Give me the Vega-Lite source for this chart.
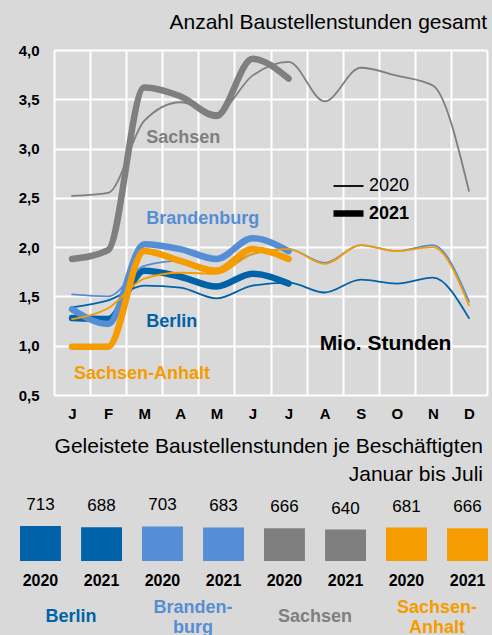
{
  "$schema": "https://vega.github.io/schema/vega-lite/v6.json",
  "background": "#d9d9d9",
  "padding": {"left": 18, "top": 12, "right": 6, "bottom": 0},
  "spacing": 15,
  "config": {"font": "Liberation Sans", "view": {"stroke": null}},
  "datasets": {
    "lines": [
      {"state": "Sachsen", "year": "2020", "month": 1, "value": 2.52},
      {"state": "Sachsen", "year": "2020", "month": 2, "value": 2.55},
      {"state": "Sachsen", "year": "2020", "month": 3, "value": 3.28},
      {"state": "Sachsen", "year": "2020", "month": 4, "value": 3.47},
      {"state": "Sachsen", "year": "2020", "month": 5, "value": 3.36},
      {"state": "Sachsen", "year": "2020", "month": 6, "value": 3.74},
      {"state": "Sachsen", "year": "2020", "month": 7, "value": 3.88},
      {"state": "Sachsen", "year": "2020", "month": 8, "value": 3.48},
      {"state": "Sachsen", "year": "2020", "month": 9, "value": 3.82},
      {"state": "Sachsen", "year": "2020", "month": 10, "value": 3.74},
      {"state": "Sachsen", "year": "2020", "month": 11, "value": 3.64},
      {"state": "Sachsen", "year": "2020", "month": 12, "value": 2.57},
      {"state": "Sachsen", "year": "2021", "month": 1, "value": 1.88},
      {"state": "Sachsen", "year": "2021", "month": 2, "value": 1.97},
      {"state": "Sachsen", "year": "2021", "month": 3, "value": 3.62},
      {"state": "Sachsen", "year": "2021", "month": 4, "value": 3.53},
      {"state": "Sachsen", "year": "2021", "month": 5, "value": 3.33},
      {"state": "Sachsen", "year": "2021", "month": 6, "value": 3.91},
      {"state": "Sachsen", "year": "2021", "month": 7, "value": 3.71},
      {"state": "Berlin", "year": "2020", "month": 1, "value": 1.39},
      {"state": "Berlin", "year": "2020", "month": 2, "value": 1.46},
      {"state": "Berlin", "year": "2020", "month": 3, "value": 1.61},
      {"state": "Berlin", "year": "2020", "month": 4, "value": 1.59},
      {"state": "Berlin", "year": "2020", "month": 5, "value": 1.48},
      {"state": "Berlin", "year": "2020", "month": 6, "value": 1.61},
      {"state": "Berlin", "year": "2020", "month": 7, "value": 1.64},
      {"state": "Berlin", "year": "2020", "month": 8, "value": 1.54},
      {"state": "Berlin", "year": "2020", "month": 9, "value": 1.67},
      {"state": "Berlin", "year": "2020", "month": 10, "value": 1.63},
      {"state": "Berlin", "year": "2020", "month": 11, "value": 1.69},
      {"state": "Berlin", "year": "2020", "month": 12, "value": 1.28},
      {"state": "Berlin", "year": "2021", "month": 1, "value": 1.28},
      {"state": "Berlin", "year": "2021", "month": 2, "value": 1.27},
      {"state": "Berlin", "year": "2021", "month": 3, "value": 1.76},
      {"state": "Berlin", "year": "2021", "month": 4, "value": 1.70},
      {"state": "Berlin", "year": "2021", "month": 5, "value": 1.60},
      {"state": "Berlin", "year": "2021", "month": 6, "value": 1.73},
      {"state": "Berlin", "year": "2021", "month": 7, "value": 1.63},
      {"state": "Brandenburg", "year": "2020", "month": 1, "value": 1.52},
      {"state": "Brandenburg", "year": "2020", "month": 2, "value": 1.50},
      {"state": "Brandenburg", "year": "2020", "month": 3, "value": 1.81},
      {"state": "Brandenburg", "year": "2020", "month": 4, "value": 1.86},
      {"state": "Brandenburg", "year": "2020", "month": 5, "value": 1.78},
      {"state": "Brandenburg", "year": "2020", "month": 6, "value": 1.93},
      {"state": "Brandenburg", "year": "2020", "month": 7, "value": 1.98},
      {"state": "Brandenburg", "year": "2020", "month": 8, "value": 1.84},
      {"state": "Brandenburg", "year": "2020", "month": 9, "value": 2.02},
      {"state": "Brandenburg", "year": "2020", "month": 10, "value": 1.96},
      {"state": "Brandenburg", "year": "2020", "month": 11, "value": 2.02},
      {"state": "Brandenburg", "year": "2020", "month": 12, "value": 1.45},
      {"state": "Brandenburg", "year": "2021", "month": 1, "value": 1.37},
      {"state": "Brandenburg", "year": "2021", "month": 2, "value": 1.22},
      {"state": "Brandenburg", "year": "2021", "month": 3, "value": 2.03},
      {"state": "Brandenburg", "year": "2021", "month": 4, "value": 1.98},
      {"state": "Brandenburg", "year": "2021", "month": 5, "value": 1.88},
      {"state": "Brandenburg", "year": "2021", "month": 6, "value": 2.09},
      {"state": "Brandenburg", "year": "2021", "month": 7, "value": 1.96},
      {"state": "Sachsen-Anhalt", "year": "2020", "month": 1, "value": 1.27},
      {"state": "Sachsen-Anhalt", "year": "2020", "month": 2, "value": 1.38},
      {"state": "Sachsen-Anhalt", "year": "2020", "month": 3, "value": 1.68},
      {"state": "Sachsen-Anhalt", "year": "2020", "month": 4, "value": 1.74},
      {"state": "Sachsen-Anhalt", "year": "2020", "month": 5, "value": 1.73},
      {"state": "Sachsen-Anhalt", "year": "2020", "month": 6, "value": 1.93},
      {"state": "Sachsen-Anhalt", "year": "2020", "month": 7, "value": 1.98},
      {"state": "Sachsen-Anhalt", "year": "2020", "month": 8, "value": 1.83},
      {"state": "Sachsen-Anhalt", "year": "2020", "month": 9, "value": 2.02},
      {"state": "Sachsen-Anhalt", "year": "2020", "month": 10, "value": 1.96},
      {"state": "Sachsen-Anhalt", "year": "2020", "month": 11, "value": 2.00},
      {"state": "Sachsen-Anhalt", "year": "2020", "month": 12, "value": 1.41},
      {"state": "Sachsen-Anhalt", "year": "2021", "month": 1, "value": 0.99},
      {"state": "Sachsen-Anhalt", "year": "2021", "month": 2, "value": 0.99},
      {"state": "Sachsen-Anhalt", "year": "2021", "month": 3, "value": 1.96},
      {"state": "Sachsen-Anhalt", "year": "2021", "month": 4, "value": 1.86},
      {"state": "Sachsen-Anhalt", "year": "2021", "month": 5, "value": 1.76},
      {"state": "Sachsen-Anhalt", "year": "2021", "month": 6, "value": 1.98},
      {"state": "Sachsen-Anhalt", "year": "2021", "month": 7, "value": 1.88}
    ],
    "labels": [
      {"state": "Sachsen", "label": "Sachsen", "month": 3, "value": 3.06},
      {"state": "Brandenburg", "label": "Brandenburg", "month": 3, "value": 2.235},
      {"state": "Berlin", "label": "Berlin", "month": 3, "value": 1.19},
      {"state": "Sachsen-Anhalt", "label": "Sachsen-Anhalt", "month": 1, "value": 0.663}
    ],
    "perEmp": [
      {"state": "Berlin", "year": "2020", "hours": 713},
      {"state": "Berlin", "year": "2021", "hours": 688},
      {"state": "Brandenburg", "year": "2020", "hours": 703},
      {"state": "Brandenburg", "year": "2021", "hours": 683},
      {"state": "Sachsen", "year": "2020", "hours": 666},
      {"state": "Sachsen", "year": "2021", "hours": 640},
      {"state": "Sachsen-Anhalt", "year": "2020", "hours": 681},
      {"state": "Sachsen-Anhalt", "year": "2021", "hours": 666}
    ]
  },
  "vconcat": [
    {
      "width": 467,
      "height": 345,
      "title": {"text": "Anzahl Baustellenstunden gesamt", "anchor": "end", "fontSize": 21, "fontWeight": "normal", "color": "black", "baseline": "alphabetic", "offset": -7},
      "layer": [
        {
          "data": {"name": "lines"},
          "mark": {"type": "line", "interpolate": "monotone", "strokeCap": "round"},
          "encoding": {
            "x": {"field": "month", "type": "ordinal", "bandPosition": 0.5,
              "scale": {"type": "band", "paddingInner": 0, "paddingOuter": 0, "range": [34, 467]},
              "axis": {"title": null, "labelExpr": "['J','F','M','A','M','J','J','A','S','O','N','D'][datum.value-1]", "labelAngle": 0, "labelFontSize": 15, "labelFontWeight": "bold", "labelColor": "black", "labelPadding": 11, "ticks": false, "tickSize": 0, "domain": false, "grid": true, "gridColor": "white", "gridWidth": 2, "gridOpacity": 1, "tickBand": "extent"}},
            "y": {"field": "value", "type": "quantitative",
              "scale": {"domain": [0.5, 4], "nice": false, "zero": false},
              "axis": {"title": null, "offset": -34, "values": [0.5, 1, 1.5, 2, 2.5, 3, 3.5, 4], "labelExpr": "replace(format(datum.value, '.1f'), '.', ',')", "labelFontSize": 15, "labelFontWeight": "bold", "labelColor": "black", "labelPadding": 15, "ticks": false, "tickSize": 0, "domain": false, "grid": true, "gridColor": "white", "gridWidth": 2, "gridOpacity": 1}},
            "color": {"field": "state", "type": "nominal",
              "scale": {"domain": ["Berlin", "Brandenburg", "Sachsen", "Sachsen-Anhalt"], "range": ["#0062a8", "#558ed5", "#7f7f7f", "#f49c00"]},
              "legend": null},
            "strokeWidth": {"field": "year", "type": "nominal",
              "scale": {"domain": ["2020", "2021"], "range": [1.8, 6.5]},
              "legend": {"orient": "none", "legendX": 310, "legendY": 120, "title": null, "symbolType": "stroke", "symbolStrokeColor": "black", "symbolSize": 900, "labelFontSize": 18, "labelColor": "black", "labelOffset": 2, "rowPadding": 0, "padding": 0,
                "encode": {"labels": {"update": {"fontWeight": {"signal": "datum.label == '2021' ? 'bold' : 'normal'"}}}}}}
          }
        },
        {
          "data": {"name": "labels"},
          "mark": {"type": "text", "align": "left", "baseline": "alphabetic", "fontSize": 18, "fontWeight": "bold", "dx": 2},
          "encoding": {
            "x": {"field": "month", "type": "ordinal", "bandPosition": 0.5},
            "y": {"field": "value", "type": "quantitative"},
            "text": {"field": "label"},
            "color": {"field": "state", "type": "nominal", "legend": null}
          }
        },
        {
          "data": {"values": [{}]},
          "mark": {"type": "text", "align": "left", "baseline": "alphabetic", "fontSize": 21, "fontWeight": "bold", "color": "black", "dx": -5},
          "encoding": {
            "x": {"datum": 8, "type": "ordinal", "bandPosition": 0.5},
            "y": {"datum": 0.957, "type": "quantitative"},
            "text": {"value": "Mio. Stunden"}
          }
        }
      ]
    },
    {
      "data": {"name": "perEmp"},
      "title": {"text": ["Geleistete Baustellenstunden je Beschäftigten", "Januar bis Juli"], "anchor": "end", "fontSize": 21, "fontWeight": "normal", "color": "black", "lineHeight": 28, "baseline": "bottom", "offset": -10, "dx": -5},
      "spacing": {"column": 20},
      "facet": {"column": {"field": "state", "type": "nominal",
        "header": {"title": null, "labelOrient": "bottom", "labelFontSize": 18, "labelFontWeight": "bold", "labelLineHeight": 20, "labelPadding": 20,
          "labelBaseline": {"expr": "parent['state'] == 'Brandenburg' || parent['state'] == 'Sachsen-Anhalt' ? 'middle' : 'top'"},
          "labelExpr": "datum.value == 'Brandenburg' ? ['Branden-', 'burg'] : datum.value == 'Sachsen-Anhalt' ? ['Sachsen-', 'Anhalt'] : datum.value",
          "labelColor": {"expr": "parent['state'] == 'Berlin' ? '#0062a8' : parent['state'] == 'Brandenburg' ? '#558ed5' : parent['state'] == 'Sachsen' ? '#7f7f7f' : '#f49c00'"}}}},
      "spec": {
        "width": 102,
        "height": 35,
        "layer": [
          {
            "mark": {"type": "bar"},
            "encoding": {
              "x": {"field": "year", "type": "nominal", "scale": {"paddingInner": 0.33, "paddingOuter": 0},
                "axis": {"title": null, "labelAngle": 0, "labelFontSize": 16, "labelFontWeight": "bold", "labelColor": "black", "labelPadding": 11, "ticks": false, "tickSize": 0, "domain": false, "grid": false}},
              "y": {"field": "hours", "type": "quantitative", "scale": {"domain": [0, 713], "nice": false}, "axis": null},
              "color": {"field": "state", "type": "nominal", "legend": null}
            }
          },
          {
            "mark": {"type": "text", "baseline": "alphabetic", "dy": -16, "fontSize": 17, "color": "black"},
            "encoding": {
              "x": {"field": "year", "type": "nominal"},
              "y": {"field": "hours", "type": "quantitative"},
              "text": {"field": "hours", "type": "quantitative"}
            }
          }
        ]
      }
    }
  ]
}
